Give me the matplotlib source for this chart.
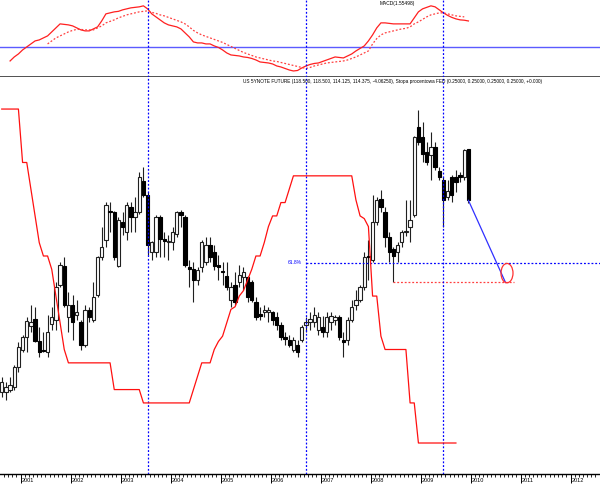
import numpy as np
import pandas as pd
import matplotlib
matplotlib.use("Agg")
import matplotlib.pyplot as plt
from matplotlib.patches import Ellipse
from matplotlib.transforms import ScaledTranslation

plt.rcParams["font.family"] = ["Liberation Sans", "DejaVu Sans"]

# monthly candles, Aug 2000 .. Dec 2009
price_start = "2000-08"
opens = [99.0, 99.0, 99.2, 99.4, 101.0, 102.4, 103.4, 104.3, 104.9, 103.1,
         102.4, 102.2, 104.5, 104.8, 107.6, 109.1, 105.0, 106.0, 105.2, 104.6,
         102.8, 105.6, 104.8, 106.8, 109.8, 111.2, 113.5, 113.4, 109.1, 112.6,
         111.8, 113.8, 113.0, 113.4, 115.9, 114.8, 110.2, 110.2, 113.0, 111.3,
         111.0, 111.0, 111.7, 113.4, 113.0, 109.0, 108.9, 108.0, 109.0, 109.4,
         110.8, 110.2, 109.2, 108.7, 108.3, 106.4, 107.6, 107.8, 108.2, 108.2,
         107.8, 106.2, 105.3, 105.4, 105.4, 105.4, 105.0, 104.4, 103.4, 103.2,
         102.4, 102.8, 103.2, 104.4, 104.6, 104.6, 104.0, 104.2, 103.8, 104.6,
         104.8, 105.0, 103.2, 103.2, 104.8, 106.0, 106.4, 107.4, 109.9, 109.6,
         112.6, 114.5, 113.4, 111.4, 110.5, 110.2, 111.0, 111.8, 112.2, 113.2,
         120.2, 119.4, 118.2, 118.0, 118.6, 116.7, 116.0, 114.6, 116.2, 116.2,
         116.4, 116.2, 118.5]
highs = [100.2, 99.8, 100.2, 101.2, 103.0, 103.6, 105.0, 106.0, 105.8, 104.2,
         103.8, 105.2, 105.8, 107.8, 109.4, 109.8, 107.0, 106.8, 106.4, 104.8,
         106.0, 105.8, 107.8, 109.9, 112.2, 114.2, 114.2, 113.5, 113.0, 113.4,
         114.2, 114.2, 114.6, 116.6, 117.0, 115.0, 111.1, 113.2, 113.2, 111.8,
         111.6, 112.2, 113.5, 113.6, 113.2, 109.6, 109.4, 109.0, 111.2, 111.4,
         111.4, 110.8, 110.0, 109.4, 109.4, 107.8, 108.6, 109.2, 109.0, 108.3,
         108.0, 106.6, 105.8, 106.0, 105.8, 105.5, 105.4, 104.6, 103.8, 103.6,
         103.4, 103.2, 104.4, 105.0, 105.4, 105.8, 105.4, 105.1, 105.4, 105.4,
         105.2, 105.2, 103.8, 105.0, 106.4, 107.2, 107.6, 110.2, 111.2, 114.8,
         114.6, 115.2, 113.8, 111.8, 110.6, 111.0, 112.0, 114.4, 114.4, 119.5,
         121.6, 120.6, 119.0, 119.8, 119.0, 117.0, 116.2, 116.0, 116.4, 116.8,
         116.6, 118.5, 118.5]
lows = [98.6, 98.4, 99.0, 99.2, 100.6, 102.2, 102.2, 103.8, 103.0, 101.8,
        102.2, 101.8, 104.0, 104.0, 107.4, 105.8, 103.8, 103.2, 104.8, 102.4,
        102.6, 104.6, 104.6, 106.6, 109.6, 110.6, 111.8, 109.6, 109.0, 111.6,
        111.2, 111.8, 111.8, 113.3, 114.6, 110.0, 109.6, 109.8, 109.8, 109.8,
        109.6, 110.4, 111.4, 112.2, 109.0, 107.4, 106.2, 107.6, 108.6, 109.2,
        109.4, 108.8, 108.0, 107.6, 107.2, 105.8, 106.0, 107.4, 107.2, 106.2,
        106.2, 104.8, 104.8, 105.0, 104.6, 104.4, 104.0, 103.2, 102.8, 102.6,
        102.2, 101.8, 103.0, 103.8, 104.0, 104.2, 103.6, 103.4, 103.4, 104.0,
        104.4, 103.2, 101.8, 102.8, 104.6, 105.6, 106.2, 107.2, 108.0, 109.4,
        112.4, 113.4, 110.6, 109.4, 107.8, 109.4, 110.6, 111.5, 111.0, 113.0,
        118.8, 117.4, 117.2, 116.0, 116.8, 116.0, 112.2, 114.4, 114.2, 115.0,
        115.8, 116.0, 114.125]
closes = [99.8, 99.4, 99.6, 101.0, 102.6, 103.4, 104.7, 104.6, 103.1, 102.2,
          102.3, 103.8, 105.0, 107.4, 109.2, 106.0, 106.0, 104.6, 105.4, 102.8,
          105.6, 105.0, 106.6, 109.8, 110.6, 114.0, 113.4, 109.8, 112.8, 112.2,
          114.0, 113.0, 113.4, 116.2, 114.8, 110.8, 111.0, 113.0, 111.3, 111.1,
          111.1, 111.8, 113.4, 113.2, 109.2, 108.9, 108.0, 108.8, 111.0, 110.8,
          109.8, 109.1, 109.0, 108.6, 107.4, 107.4, 106.2, 108.4, 108.6, 106.6,
          106.4, 105.0, 105.1, 105.6, 105.6, 104.8, 104.4, 103.4, 103.3, 102.8,
          103.2, 102.2, 104.2, 104.6, 104.9, 105.2, 105.0, 103.8, 105.0, 105.1,
          105.0, 103.4, 103.0, 104.8, 105.8, 106.4, 107.4, 109.8, 109.8, 112.6,
          114.4, 113.8, 111.4, 110.2, 109.9, 110.8, 111.8, 111.9, 112.8, 119.4,
          119.0, 118.1, 117.4, 118.6, 117.0, 116.2, 114.4, 115.1, 114.8, 115.8,
          116.2, 118.4, 114.375]

# Fed funds target rate (red step line), Aug 2000 .. Sep 2009
fed_start = "2000-08"
fed_rate = [6.5, 6.5, 6.5, 6.5, 6.5,
            5.5, 5.5, 5.0, 4.5, 4.0, 3.75, 3.75, 3.5, 3.0, 2.5, 2.0,
            1.75, 1.75, 1.75, 1.75, 1.75, 1.75, 1.75, 1.75, 1.75, 1.75, 1.75,
            1.25, 1.25, 1.25, 1.25, 1.25, 1.25, 1.25,
            1.0, 1.0, 1.0, 1.0, 1.0, 1.0, 1.0, 1.0, 1.0, 1.0, 1.0, 1.0,
            1.25, 1.5, 1.75, 1.75, 1.75, 2.0, 2.15, 2.25, 2.5, 2.75, 2.8, 3.0,
            3.1, 3.3, 3.5, 3.75, 3.75, 4.0, 4.3, 4.5, 4.5, 4.75, 4.75, 5.0, 5.25,
            5.25, 5.25, 5.25, 5.25, 5.25, 5.25, 5.25, 5.25, 5.25, 5.25, 5.25,
            5.25, 5.25, 5.25,
            4.8, 4.5, 4.45, 4.3, 3.0, 3.0, 2.25, 2.0,
            2.0, 2.0, 2.0, 2.0, 2.0,
            1.0, 1.0,
            0.25, 0.25, 0.25, 0.25, 0.25, 0.25, 0.25, 0.25, 0.25, 0.25]

# MACD and signal
macd_start = "2000-10"
macd = [-0.84, -0.60, -0.42, -0.18, 0.00, 0.18, 0.36, 0.42, 0.54, 0.66,
        0.90, 1.14, 1.38, 1.35, 1.32, 1.26, 1.14, 1.02, 0.96, 0.96,
        1.08, 1.20, 1.56, 1.98, 2.04, 2.10, 2.13, 2.22, 2.28, 2.34,
        2.37, 2.40, 2.46, 2.28, 1.98, 1.80, 1.62, 1.44, 1.32, 1.26,
        1.20, 1.08, 0.84, 0.60, 0.30, 0.24, 0.24, 0.18, 0.18, 0.06,
        -0.03, -0.18, -0.36, -0.48, -0.51, -0.54, -0.60, -0.63, -0.69, -0.78,
        -0.90, -0.93, -0.96, -1.02, -1.14, -1.20, -1.29, -1.38, -1.44, -1.41,
        -1.26, -1.14, -1.05, -0.99, -0.96, -0.87, -0.78, -0.69, -0.60, -0.63,
        -0.66, -0.54, -0.42, -0.24, -0.09, 0.06, 0.36, 0.72, 1.14, 1.44,
        1.44, 1.41, 1.38, 1.38, 1.38, 1.38, 1.38, 1.74, 2.10, 2.28,
        2.37, 2.46, 2.40, 2.22, 2.04, 1.89, 1.77, 1.68, 1.62, 1.60,
        1.55498]
signal_start = "2001-07"
signal = [0.18, 0.36, 0.54, 0.66, 0.78, 0.90, 0.99, 1.05, 1.05, 1.02,
          1.02, 1.02, 1.14, 1.26, 1.44, 1.53, 1.62, 1.74, 1.83, 1.92,
          1.98, 2.04, 2.10, 2.13, 2.16, 2.07, 2.01, 1.92, 1.86, 1.77,
          1.68, 1.59, 1.50, 1.38, 1.20, 0.99, 0.84, 0.72, 0.63, 0.54,
          0.45, 0.36, 0.27, 0.15, 0.03, -0.09, -0.21, -0.33, -0.42, -0.51,
          -0.60, -0.66, -0.72, -0.78, -0.84, -0.87, -0.93, -0.99, -1.05, -1.11,
          -1.17, -1.23, -1.29, -1.23, -1.14, -1.08, -1.02, -0.96, -0.93, -0.90,
          -0.87, -0.84, -0.78, -0.69, -0.60, -0.48, -0.36, -0.24, 0.18, 0.50,
          0.72, 0.84, 0.90, 0.96, 1.02, 1.08, 1.11, 1.20, 1.38, 1.50,
          1.65, 1.80, 1.92, 1.98, 2.04, 2.04, 1.98, 1.92, 1.86, 1.83,
          1.80]

marker_months = ["2003-07", "2006-09", "2009-06"]
support_month = "2008-06"
year_labels = list(range(2001, 2013))
target_x = 2010.70
header = ("US 5YNOTE FUTURE (118.500, 118.500, 114.125, 114.375, -4.06250), "
          "Stopa procentowa FED (0.25000, 0.25000, 0.25000, 0.25000, +0.000)")


def month_x(start, n):
    d = pd.date_range(start, periods=n, freq="MS")
    return np.asarray(d.year + (d.month - 0.5) / 12.0)


def month_index(start, month):
    return (pd.Period(month, "M") - pd.Period(start, "M")).n


x = month_x(price_start, len(closes))
o = np.array(opens)
h = np.array(highs)
l = np.array(lows)
c = np.array(closes)
up = c >= o

fig = plt.figure(figsize=(6.0, 4.98), dpi=100)
ax_top = fig.add_axes([0, 0.8454, 1, 0.1546])
ax = fig.add_axes([0, 0.0482, 1, 0.7972])
xlim = (2000.59, 2012.59)
dotted = (0, (1.5, 1.5))

# --- MACD panel ---
ax_top.set_xlim(*xlim)
ax_top.set_ylim(-1.80, 2.81)
ax_top.axhline(0, color="#5b5bff", lw=1.0)
ax_top.plot(month_x(macd_start, len(macd)), macd, color="#ff2020", lw=0.9)
ax_top.plot(month_x(signal_start, len(signal)), signal, color="#ff4040",
            lw=0.9, ls=dotted)
ax_top.text(0.633, 0.95, "MACD(%.5f)" % macd[-1], transform=ax_top.transAxes,
            fontsize=3.5, va="center", ha="left")
for s in ["top", "left", "right"]:
    ax_top.spines[s].set_visible(False)
ax_top.spines["bottom"].set_color("#333333")
ax_top.spines["bottom"].set_linewidth(1.2)
ax_top.set_xticks([])
ax_top.set_yticks([])

# --- price panel ---
ax.set_xlim(*xlim)
ax.set_ylim(92.48, 124.24)
ax.vlines(x, l, h, color="#202020", lw=0.8, zorder=2)
body_w = 0.065
ax.bar(x[up], c[up] - o[up], bottom=o[up], width=body_w, color="white",
       edgecolor="#202020", linewidth=0.8, zorder=3)
ax.bar(x[~up], o[~up] - c[~up], bottom=c[~up], width=body_w, color="black",
       edgecolor="black", linewidth=0.8, zorder=3)

# 61.8% retracement from the 2006-07 lows to the Dec 2008 high
swing_lo = l[60:100].min()
swing_hi = h.max()
fib = swing_hi - 0.618 * (swing_hi - swing_lo)

vx = [month_x(m, 1)[0] for m in marker_months]
ax.hlines(fib, vx[1], xlim[1], color="blue", lw=0.9, ls=dotted, zorder=4)
ax.annotate("61.8%", xy=(vx[1], fib), xytext=(-4, 0), textcoords="offset pixels",
            ha="right", va="center", fontsize=3.6, color="blue")

low_idx = month_index(price_start, support_month)
support = l[low_idx]
ax.hlines(support, x[low_idx], target_x + 0.16, color="#ff4040", lw=0.9,
          ls=dotted, zorder=4)
ax.plot([x[-1], target_x], [c[-1], support], color="#3030ff", lw=0.9, zorder=4)
ax.add_patch(Ellipse((target_x + 0.03, support + 0.75), 0.24, 1.55,
                     fill=False, edgecolor="#ff3030", lw=0.9, zorder=4))

for v in vx:
    ax.axvline(v, color="blue", lw=0.9, ls=dotted, zorder=5)
    ax_top.axvline(v, color="blue", lw=0.9, ls=dotted, zorder=5)

for s in ["top", "left", "right"]:
    ax.spines[s].set_visible(False)
ax.spines["bottom"].set_linewidth(1.0)
ax.set_yticks([])
ax.set_xticks(year_labels)
ax.set_xticklabels([str(y) for y in year_labels], ha="left")
ax.set_xticks(np.arange(2000 + 8 / 12, 2012.6, 1 / 12), minor=True)
ax.tick_params(axis="x", which="major", length=6.5, width=0.7, pad=-3.6,
               labelsize=4, direction="out")
ax.tick_params(axis="x", which="minor", length=2.2, width=0.6, direction="out")
off = ScaledTranslation(1.5 / 100, 0, fig.dpi_scale_trans)
for lab in ax.get_xticklabels():
    lab.set_transform(lab.get_transform() + off)

# --- Fed funds rate on its own scale ---
ax_fed = ax.twinx()
ax_fed.set_ylim(-0.33, 7.10)
ax_fed.plot(month_x(fed_start, len(fed_rate)), fed_rate, color="#ff1010", lw=0.9)
ax_fed.set_yticks([])
for s in ax_fed.spines.values():
    s.set_visible(False)

fig.text(243 / 600, 1 - 81 / 498, header, fontsize=3.4, va="center", ha="left")

fig.savefig("out.png", dpi=100)
